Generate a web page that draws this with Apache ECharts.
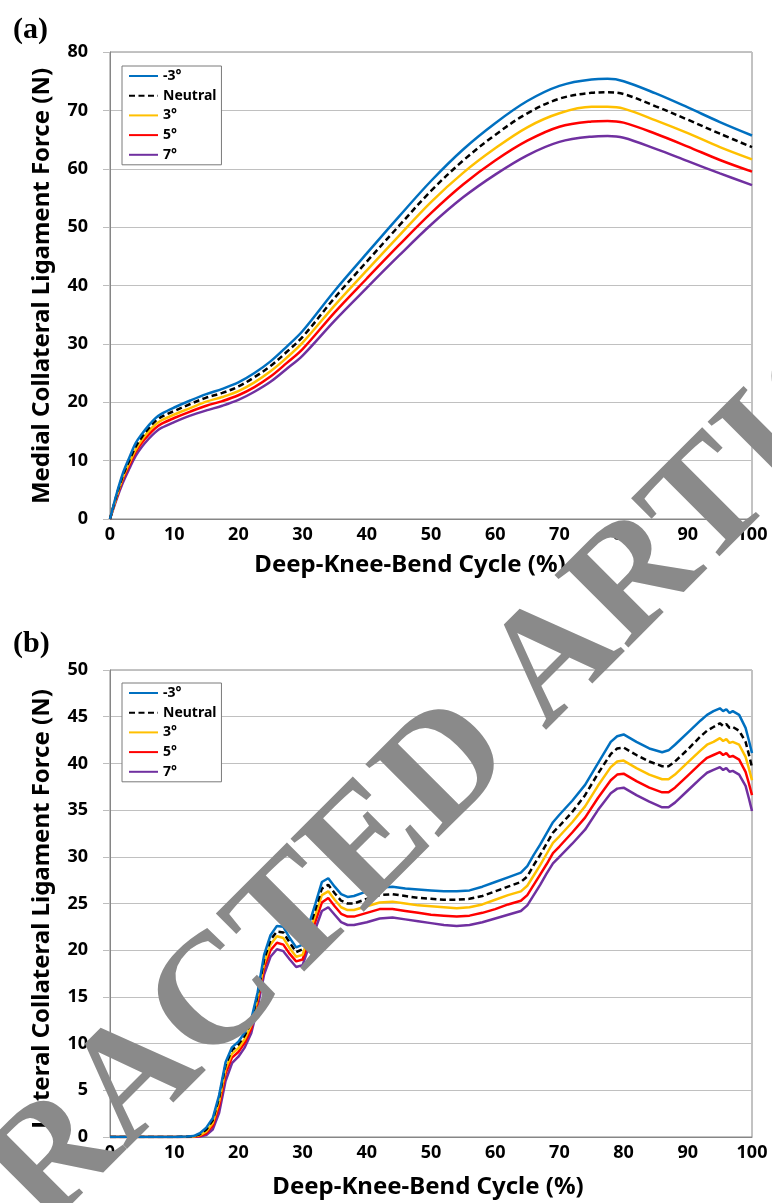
<!DOCTYPE html>
<html><head><meta charset="utf-8">
<script src="https://cdn.jsdelivr.net/npm/echarts@6/dist/echarts.min.js"></script>
<style>html,body{margin:0;padding:0;background:#fff}#c{width:772px;height:1203px}</style>
</head><body><div id="c"></div>
<script>
// ---- shared ----
const seriesNames = ['-3°', 'Neutral', '3°', '5°', '7°'];
const seriesColors = ['#0070C0', '#000000', '#FFC000', '#FF0000', '#7030A0'];
const xTitle = 'Deep-Knee-Bend Cycle (%)';
const yTitleA = 'Medial Collateral Ligament Force (N)';
const yTitleB = 'Lateral Collateral Ligament Force (N)';
const panelLabels = ['(a)', '(b)'];
const watermark = 'RETRACTED ARTICLE';

// ---- panel (a): MCL force ----
const xA = [0,1,2,3,4,5,6,7,8,10,12.5,15,17.5,20,22.5,25,27.5,30,35,40,45,50,55,60,65,70,75,77.5,80,85,90,95,100];
const mclM3 = [0,4.2,7.8,10.5,13.0,14.6,16.0,17.2,18.0,19.1,20.3,21.4,22.3,23.4,25.0,27.0,29.5,32.2,39.1,45.5,51.8,57.9,63.3,67.8,71.6,74.2,75.3,75.4,75.0,72.9,70.5,68.0,65.7];
const mclNeutral = [0,4.0,7.4,10.0,12.4,14.1,15.5,16.7,17.5,18.5,19.7,20.8,21.6,22.7,24.3,26.2,28.6,31.2,37.9,44.1,50.2,56.2,61.4,65.8,69.5,72.0,73.0,73.1,72.8,70.7,68.4,66.0,63.7];
const mcl3 = [0,3.8,7.1,9.6,11.9,13.6,15.0,16.1,16.9,17.9,19.0,20.1,20.9,21.9,23.4,25.3,27.6,30.2,36.6,42.6,48.5,54.3,59.3,63.5,67.1,69.5,70.6,70.6,70.3,68.3,66.1,63.7,61.6];
const mcl5 = [0,3.6,6.8,9.2,11.5,13.1,14.4,15.5,16.3,17.3,18.4,19.4,20.2,21.2,22.6,24.4,26.7,29.1,35.4,41.2,46.9,52.4,57.3,61.4,64.8,67.2,68.1,68.2,67.9,66.0,63.8,61.5,59.5];
const mcl7 = [0,3.3,6.2,8.6,10.8,12.4,13.7,14.8,15.6,16.6,17.7,18.6,19.4,20.4,21.8,23.5,25.7,28.0,34.0,39.6,45.1,50.4,55.1,59.0,62.3,64.6,65.5,65.6,65.3,63.4,61.3,59.2,57.2];

// ---- panel (b): LCL force ----
const xB = [0,5,10,12,13,14,15,16,17,18,19,20,21,22,23,24,25,26,27,28,29,30,31,32,33,34,35,36,37,38,40,42,44,46,48,50,52,54,56,58,60,62,64,65,66,67,68,69,70,72,74,76,78,79,80,81,82,84,86,87,88,90,92,93,94,95,95.5,96,96.5,97,98,99,99.5,100];
const lclM3 = [0,0,0,0.05,0.1,0.4,1.0,2.0,4.5,8.0,
  9.6,10.2,11.2,12.6,15.5,19.5,21.6,22.6,22.5,21.3,
  20.3,20.6,22.8,25.0,27.3,27.7,26.8,26.0,25.7,25.8,
  26.3,26.7,26.8,26.6,26.5,26.4,26.3,26.3,26.4,26.8,
  27.3,27.8,28.3,29.0,30.2,31.3,32.5,33.7,34.5,36.0,
  37.7,40.0,42.3,42.9,43.1,42.7,42.3,41.6,41.2,41.4,
  42.0,43.3,44.6,45.2,45.6,45.9,45.6,45.8,45.4,45.6,
  45.2,43.8,42.5,41.1];
const lclNeutral = [0,0,0,0.03,0.08,0.3,0.8,1.8,4.2,7.7,
  9.3,9.9,10.9,12.3,15.2,19.0,21.1,22.0,21.9,20.8,
  19.8,20.1,22.2,24.4,26.6,27.0,26.1,25.3,25.0,25.0,
  25.5,25.9,26.0,25.8,25.6,25.5,25.4,25.4,25.5,25.8,
  26.3,26.8,27.3,27.9,29.1,30.2,31.4,32.6,33.3,34.8,
  36.6,38.9,41.0,41.6,41.7,41.3,40.9,40.2,39.7,39.7,
  40.2,41.5,42.9,43.5,43.9,44.3,44.0,44.2,43.8,43.9,
  43.5,42.3,41.0,39.6];
const lcl3 = [0,0,0,0.02,0.05,0.2,0.6,1.5,3.8,7.3,
  8.9,9.5,10.5,12.0,14.9,18.6,20.6,21.5,21.3,20.2,
  19.3,19.5,21.7,23.8,25.9,26.3,25.4,24.6,24.3,24.3,
  24.7,25.1,25.2,25.0,24.8,24.7,24.6,24.5,24.6,24.9,
  25.4,25.9,26.3,26.9,28.0,29.1,30.3,31.5,32.2,33.7,
  35.4,37.6,39.6,40.2,40.3,39.9,39.5,38.8,38.3,38.3,
  38.8,40.1,41.4,42.0,42.3,42.7,42.4,42.6,42.2,42.3,
  42.0,40.7,39.5,38.2];
const lcl5 = [0,0,0,0.01,0.03,0.1,0.4,1.2,3.3,6.8,
  8.5,9.1,10.1,11.6,14.5,18.1,20.0,20.8,20.6,19.6,
  18.8,19.0,21.1,23.1,25.1,25.6,24.7,23.9,23.6,23.6,
  24.0,24.4,24.4,24.2,24.0,23.8,23.7,23.6,23.7,24.0,
  24.4,24.9,25.3,25.9,27.0,28.1,29.2,30.4,31.1,32.6,
  34.2,36.3,38.2,38.8,38.9,38.5,38.1,37.4,36.9,36.9,
  37.4,38.7,40.0,40.6,40.9,41.2,40.9,41.1,40.7,40.8,
  40.4,39.1,37.9,36.6];
const lcl7 = [0,0,0,0,0.01,0.05,0.2,0.8,2.6,6.0,
  7.9,8.6,9.6,11.1,13.9,17.4,19.3,20.1,19.9,19.0,
  18.2,18.4,20.4,22.3,24.2,24.6,23.8,23.0,22.7,22.7,
  23.0,23.4,23.5,23.3,23.1,22.9,22.7,22.6,22.7,23.0,
  23.4,23.8,24.2,24.8,25.9,27.0,28.2,29.3,30.0,31.4,
  32.9,35.0,36.8,37.3,37.4,37.0,36.6,35.9,35.3,35.3,
  35.8,37.1,38.4,39.0,39.3,39.6,39.3,39.5,39.1,39.2,
  38.8,37.6,36.3,34.9];

// axis ranges
const xRange = {min: 0, max: 100, interval: 10};
const yRangeA = {min: 0, max: 80, interval: 10};
const yRangeB = {min: 0, max: 50, interval: 5};

const FONT = '"Noto Sans", "Open Sans", sans-serif';
const pairs = (xs, ys) => xs.map((x, i) => [x, ys[i]]);
const seriesA = [mclM3, mclNeutral, mcl3, mcl5, mcl7];
const seriesB = [lclM3, lclNeutral, lcl3, lcl5, lcl7];

function gridDef(top) {
  return {left: 110, top: top, width: 642, height: 467, show: true,
    borderColor: '#868686', borderWidth: 1, backgroundColor: 'transparent', containLabel: false};
}
function xAxisDef(idx) {
  return {type: 'value', gridIndex: idx, ...xRange,
    axisLine: {show: true, lineStyle: {color: '#868686', width: 1}},
    axisTick: {show: false},
    splitLine: {show: false},
    axisLabel: {fontFamily: FONT, fontWeight: 'bold', fontSize: 18, color: '#000', margin: 7}};
}
function yAxisDef(idx, r) {
  return {type: 'value', gridIndex: idx, ...r,
    axisLine: {show: true, lineStyle: {color: '#868686', width: 1}},
    axisTick: {show: true, length: 7, lineStyle: {color: '#bdbdbd'}},
    splitLine: {show: true, lineStyle: {color: '#c0c0c0', width: 1}},
    axisLabel: {fontFamily: FONT, fontWeight: 'bold', fontSize: 18, color: '#000', margin: 22}};
}
function legendDef(top) {
  return {orient: 'vertical', left: 122, top: top, data: seriesNames,
    backgroundColor: '#fff', borderColor: '#7a7a7a', borderWidth: 1,
    padding: [3, 5, 3, 6], itemWidth: 29, itemHeight: 14, itemGap: 5.7,
    itemStyle: {opacity: 0, borderWidth: 0},
    textStyle: {fontFamily: FONT, fontWeight: 'bold', fontSize: 14, color: '#000', padding: [0, 0, 0, 0]},
    z: 10};
}
function buildSeries(xs, list, idx, smooth) {
  return list.map((ys, i) => ({
    name: seriesNames[i], type: 'line', xAxisIndex: idx, yAxisIndex: idx,
    data: pairs(xs, ys), symbol: 'none', showSymbol: false, smooth: smooth,
    lineStyle: {color: seriesColors[i], width: 2.5, type: i === 1 ? [6, 3.5] : 'solid'},
    itemStyle: {color: seriesColors[i]},
    animation: false, z: 3 + (4 - i)
  }));
}

const chart = echarts.init(document.getElementById('c'), null, {renderer: 'canvas'});
chart.setOption({
  animation: false,
  backgroundColor: '#fff',
  grid: [gridDef(52), gridDef(670)],
  xAxis: [xAxisDef(0), xAxisDef(1)],
  yAxis: [yAxisDef(0, yRangeA), yAxisDef(1, yRangeB)],
  legend: [legendDef(66), legendDef(683)],
  series: [...buildSeries(xA, seriesA, 0, 0.35), ...buildSeries(xB, seriesB, 1, false)],
  graphic: [
    {type: 'text', x: 13, y: 30, style: {text: panelLabels[0], font: 'bold 30px "Liberation Serif", serif', fill: '#000', textAlign: 'left', textVerticalAlign: 'middle', align: 'left', verticalAlign: 'middle'}},
    {type: 'text', x: 13, y: 644, style: {text: panelLabels[1], font: 'bold 30px "Liberation Serif", serif', fill: '#000', textAlign: 'left', textVerticalAlign: 'middle', align: 'left', verticalAlign: 'middle'}},
    {type: 'text', x: 410, y: 565, style: {text: xTitle, font: 'bold 24px ' + FONT, fill: '#000', textAlign: 'center', textVerticalAlign: 'middle', align: 'center', verticalAlign: 'middle'}},
    {type: 'text', x: 428, y: 1187, style: {text: xTitle, font: 'bold 24px ' + FONT, fill: '#000', textAlign: 'center', textVerticalAlign: 'middle', align: 'center', verticalAlign: 'middle'}},
    {type: 'text', x: 42, y: 286, rotation: Math.PI / 2, style: {text: yTitleA, font: 'bold 24px ' + FONT, fill: '#000', textAlign: 'center', textVerticalAlign: 'middle', align: 'center', verticalAlign: 'middle'}},
    {type: 'text', x: 42, y: 909, rotation: Math.PI / 2, style: {text: yTitleB, font: 'bold 24px ' + FONT, fill: '#000', textAlign: 'center', textVerticalAlign: 'middle', align: 'center', verticalAlign: 'middle'}},
    {type: 'text', x: 404, y: 814, rotation: 45 * Math.PI / 180, z: 100, style: {text: watermark, font: 'bold 158px "Liberation Serif", serif', fill: '#8a8a8a', textAlign: 'center', textVerticalAlign: 'middle', align: 'center', verticalAlign: 'middle'}}
  ]
});
</script></body></html>
